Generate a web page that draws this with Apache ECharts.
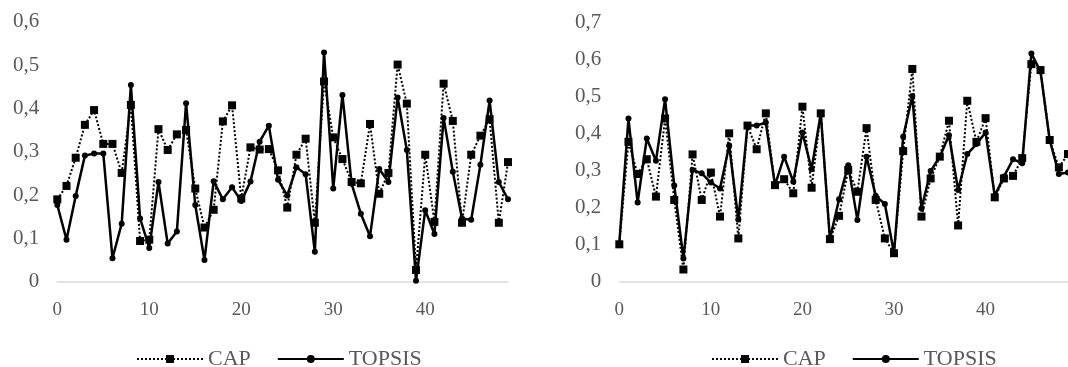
<!DOCTYPE html>
<html>
<head>
<meta charset="utf-8">
<script src="https://cdn.jsdelivr.net/npm/echarts@6/dist/echarts.min.js"></script>
<style>
html,body{margin:0;padding:0;background:#fff;}
#c{width:1068px;height:367px;}
</style>
</head>
<body>
<div id="c"></div>
<script>
const categories = Array.from({length: 50}, (_, i) => String(i));
const xTickLabels = ['0', '10', '20', '30', '40'];

const leftCAP = [0.19, 0.221, 0.286, 0.362, 0.396, 0.318, 0.318, 0.251, 0.408, 0.094,
  0.097, 0.352, 0.304, 0.34, 0.35, 0.215, 0.125, 0.166, 0.37, 0.407,
  0.192, 0.31, 0.305, 0.306, 0.257, 0.171, 0.293, 0.33, 0.136, 0.462,
  0.333, 0.283, 0.23, 0.227, 0.364, 0.203, 0.251, 0.501, 0.411, 0.027,
  0.293, 0.138, 0.457, 0.371, 0.136, 0.293, 0.337, 0.375, 0.136, 0.276];
const leftTOPSIS = [0.177, 0.097, 0.198, 0.291, 0.296, 0.296, 0.054, 0.134, 0.454, 0.146,
  0.078, 0.23, 0.088, 0.116, 0.412, 0.177, 0.05, 0.232, 0.19, 0.218,
  0.186, 0.231, 0.323, 0.36, 0.235, 0.199, 0.264, 0.248, 0.069, 0.529,
  0.215, 0.431, 0.226, 0.157, 0.105, 0.26, 0.23, 0.425, 0.304, 0.002,
  0.165, 0.11, 0.378, 0.254, 0.146, 0.143, 0.27, 0.418, 0.23, 0.19];
const rightCAP = [0.101, 0.378, 0.291, 0.331, 0.23, 0.441, 0.221, 0.033, 0.344, 0.221,
  0.295, 0.176, 0.401, 0.117, 0.422, 0.358, 0.455, 0.261, 0.277, 0.239,
  0.473, 0.254, 0.455, 0.115, 0.178, 0.302, 0.243, 0.415, 0.221, 0.117,
  0.077, 0.353, 0.575, 0.176, 0.279, 0.338, 0.435, 0.152, 0.489, 0.378,
  0.442, 0.228, 0.279, 0.286, 0.334, 0.588, 0.572, 0.383, 0.309, 0.345];
const rightTOPSIS = [0.104, 0.441, 0.214, 0.387, 0.327, 0.493, 0.26, 0.063, 0.302, 0.293,
  0.268, 0.252, 0.368, 0.168, 0.422, 0.422, 0.43, 0.261, 0.338, 0.27,
  0.403, 0.304, 0.455, 0.115, 0.223, 0.315, 0.167, 0.338, 0.232, 0.21,
  0.077, 0.392, 0.502, 0.198, 0.299, 0.338, 0.396, 0.248, 0.345, 0.372,
  0.403, 0.232, 0.284, 0.331, 0.32, 0.617, 0.568, 0.383, 0.291, 0.295];
const seriesNames = ['CAP', 'TOPSIS'];
const leftYMax = 0.6;
const rightYMax = 0.7;

const FONT = 'Liberation Serif';
const GRAY = '#595959';

function xAxis(gi) {
  return {
    type: 'category', gridIndex: gi, data: categories, boundaryGap: false,
    axisLine: {show: true, lineStyle: {color: '#d9d9d9', width: 1.5}},
    axisTick: {show: false},
    axisLabel: {
      color: GRAY, fontFamily: FONT, fontSize: 19, margin: 19,
      interval: (idx, val) => xTickLabels.indexOf(val) >= 0
    },
    splitLine: {show: false}
  };
}
function yAxis(gi, max) {
  return {
    type: 'value', gridIndex: gi, min: 0, max: max, interval: 0.1,
    axisLine: {show: false}, axisTick: {show: false}, splitLine: {show: false},
    axisLabel: {
      color: GRAY, fontFamily: FONT, fontSize: 21, margin: 18,
      formatter: v => (Math.round(v * 10) / 10).toString().replace('.', ',')
    }
  };
}
function capSeries(gi, data) {
  return {
    name: 'CAP', type: 'line', xAxisIndex: gi, yAxisIndex: gi, data: data,
    symbol: 'rect', symbolSize: 8, showAllSymbol: true, animation: false,
    lineStyle: {color: '#000', width: 2, type: [2, 2]},
    itemStyle: {color: '#000'}, z: 2
  };
}
function topsisSeries(gi, data) {
  return {
    name: 'TOPSIS', type: 'line', xAxisIndex: gi, yAxisIndex: gi, data: data,
    symbol: 'circle', symbolSize: 6, showAllSymbol: true, animation: false,
    lineStyle: {color: '#000', width: 2.5, type: 'solid'},
    itemStyle: {color: '#000'}, z: 3
  };
}
function legend(left) {
  return {
    data: seriesNames, left: left, top: 343, itemWidth: 66, itemHeight: 10,
    itemGap: 26, selectedMode: false,
    textStyle: {color: GRAY, fontFamily: FONT, fontSize: 22}
  };
}

const chart = echarts.init(document.getElementById('c'), null, {renderer: 'canvas'});
chart.setOption({
  animation: false,
  backgroundColor: '#fff',
  grid: [
    {left: 57.3, top: 21.7, width: 450.7, height: 260},
    {left: 619.3, top: 22.7, width: 450.7, height: 259}
  ],
  xAxis: [xAxis(0), xAxis(1)],
  yAxis: [yAxis(0, leftYMax), yAxis(1, rightYMax)],
  legend: [legend(131), legend(706)],
  series: [
    capSeries(0, leftCAP), topsisSeries(0, leftTOPSIS),
    capSeries(1, rightCAP), topsisSeries(1, rightTOPSIS)
  ]
});
</script>
</body>
</html>
